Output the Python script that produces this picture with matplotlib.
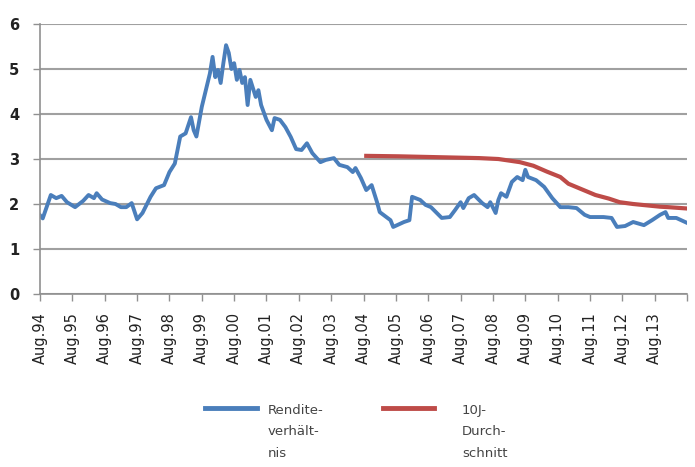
import matplotlib.pyplot as plt

# yield ratio, months since Aug 1994
ratio_month = [0, 1, 4, 6, 8, 10, 13, 16, 18, 20, 21, 23, 26, 28, 30, 32, 34, 36, 38,
               41, 43, 46, 48, 50, 52, 54, 56, 57, 58, 60, 63, 64, 65, 66, 67, 68, 69,
               70, 71, 72, 73, 74, 75, 76, 77, 78, 80, 81, 82, 84, 86, 87, 89, 91, 93,
               95, 97, 99, 101, 104, 106, 109, 111, 114, 116, 117, 119, 121, 123, 125,
               126, 130, 131, 135, 137, 138, 141, 143, 145, 149, 152, 154, 156, 157,
               159, 161, 164, 166, 167, 169, 170, 171, 173, 175, 177, 179, 180, 181,
               184, 187, 190, 193, 196, 199, 202, 204, 209, 212, 214, 217, 220, 224,
               227, 230, 232, 233, 236, 240]
ratio_value = [1.75, 1.68, 2.2, 2.13, 2.18, 2.04, 1.93, 2.07, 2.2, 2.13, 2.24, 2.1, 2.02,
               2.0, 1.93, 1.93, 2.02, 1.66, 1.8, 2.16, 2.35, 2.42, 2.71, 2.9, 3.5, 3.57,
               3.93, 3.64, 3.5, 4.16, 4.9, 5.27, 4.82, 4.98, 4.69, 5.13, 5.53, 5.36, 5.0,
               5.13, 4.76, 4.98, 4.69, 4.82, 4.2, 4.76, 4.38, 4.53, 4.2, 3.87, 3.64, 3.91,
               3.87, 3.71, 3.49, 3.22, 3.2, 3.35, 3.13, 2.93, 2.98, 3.02, 2.87, 2.82, 2.71,
               2.8, 2.58, 2.31, 2.42, 2.04, 1.82, 1.64, 1.49, 1.6, 1.64, 2.16, 2.09, 1.98,
               1.93, 1.69, 1.71, 1.87, 2.04, 1.91, 2.13, 2.2, 2.02, 1.93, 2.04, 1.8, 2.09,
               2.24, 2.16, 2.49, 2.6, 2.53, 2.76, 2.6, 2.53, 2.38, 2.13, 1.93, 1.93, 1.91,
               1.76, 1.71, 1.71, 1.69, 1.49, 1.51, 1.6, 1.53, 1.64, 1.76, 1.82, 1.69, 1.69,
               1.58]

# 10-year average
avg_month = [121, 133, 148, 163, 170, 178, 183, 188, 193, 196, 202, 206, 211, 215, 220,
             225, 230, 233, 240]
avg_value = [3.07, 3.06, 3.04, 3.02, 3.0, 2.93, 2.85, 2.72, 2.6, 2.45, 2.3, 2.2, 2.12,
             2.04, 2.0, 1.97, 1.94, 1.93, 1.9]

tick_labels = ['Aug.%02d' % (y % 100) for y in range(1994, 2014)]

fig = plt.figure(figsize=(6.95, 4.67), dpi=100)
ax = fig.add_axes([0.0576, 0.3705, 0.931, 0.578])

ax.plot(ratio_month, ratio_value, color='#4a7ebb', lw=2.8, label='Rendite-\nverhält-\nnis',
        solid_joinstyle='round')
ax.plot(avg_month, avg_value, color='#be4b48', lw=3.0, label='10J-\nDurch-\nschnitt')

ax.set_xlim(0, 240)
ax.set_ylim(0, 6)
ax.set_yticks(range(7))
ax.set_yticklabels([str(i) for i in range(7)], fontsize=10.5, fontweight='bold', color='#222222')
ax.set_xticks(range(0, 241, 12))
ax.set_xticklabels(tick_labels + [''], rotation=90, fontsize=10.5, color='#222222')

ax.grid(axis='y', color='#a0a0a0', lw=1.5)
ax.set_axisbelow(True)
for side in ['top', 'right']:
    ax.spines[side].set_visible(False)
for side in ['left', 'bottom']:
    ax.spines[side].set_color('#909090')
    ax.spines[side].set_linewidth(1.2)
ax.tick_params(axis='both', color='#909090', length=5, width=1)
ax.tick_params(axis='y', pad=10)
ax.tick_params(axis='x', pad=8)

leg = fig.legend(loc='upper left', bbox_to_anchor=(0.278, 0.161), ncol=2, frameon=False,
                 fontsize=9.5, handlelength=3.9, columnspacing=4.5, handletextpad=0.8)
for t in leg.get_texts():
    t.set_linespacing(1.85)
    t.set_color('#444444')
for h in leg.legend_handles:
    h.set_linewidth(3.5)
# handle beside the first line of each label; wider gap in the second entry
gaps = [8, 20]
for col, gap in zip(leg._legend_handle_box.get_children(), gaps):
    for row in col.get_children():
        row.align = 'top'
        row.sep = gap

fig.savefig('out.png', dpi=100)
